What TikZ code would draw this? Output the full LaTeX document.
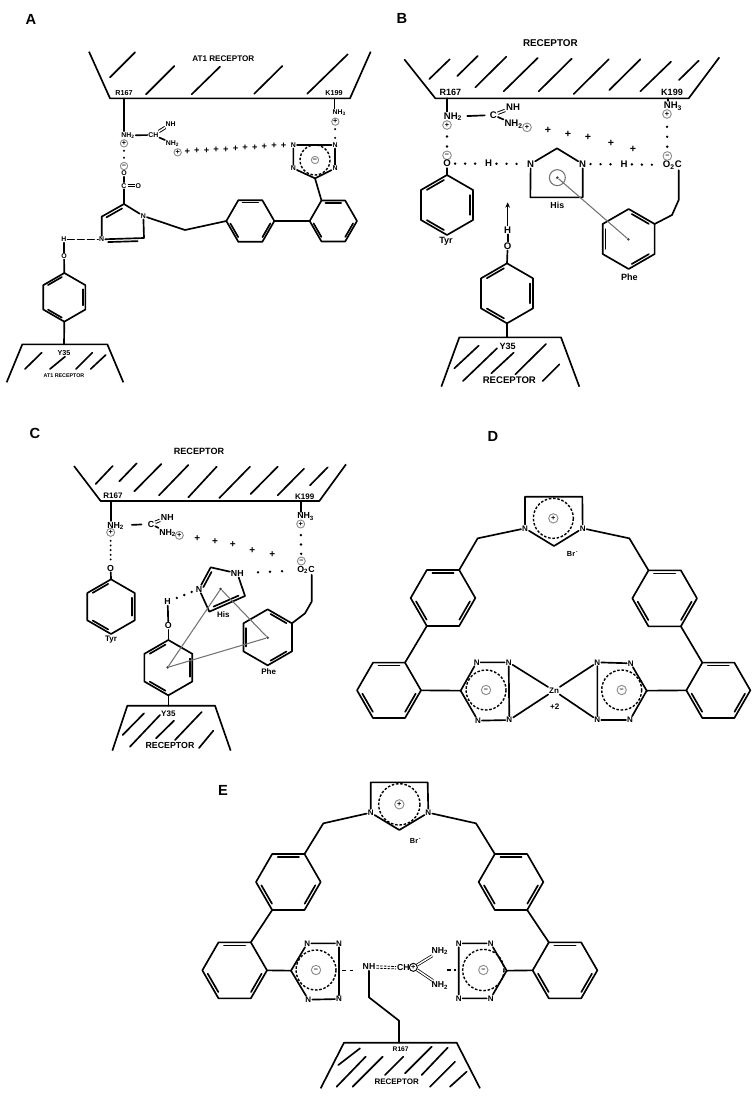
\documentclass[tikz,border=0pt]{standalone}
\usepackage{fontspec}
\setmainfont{Liberation Sans}
\usetikzlibrary{calc,arrows.meta}
\newcommand\szf[1]{\fontsize{#1}{#1}\selectfont\bfseries}
\def\atomsz{6}
\def\chgsz{5pt}
\tikzset{
  bond/.style={draw=black,line width=1.25pt,line join=round,line cap=round},
  dbl/.style={draw=black,line width=.7pt,double,double distance=1.1pt},
  atom/.style={inner sep=.6pt,font=\szf{\atomsz}},
  tag/.style={inner sep=0pt,font=\szf{#1}},
  chg/.style={circle,draw=black!45,line width=.7pt,minimum size=\chgsz,inner sep=0pt,font=\szf{5.5}},
  dotline/.style={draw=black,line width=2pt,line cap=round,dash pattern=on 0pt off #1,shorten <=2.5pt,shorten >=1pt},
  dashcirc/.style={draw=black,line width=1.05pt,dash pattern=on 1.9pt off 1.3pt},
  grayline/.style={draw=black!55,line width=.8pt},
  headline/.style={inner sep=0pt,font=\szf{11}},
  cross/.style={inner sep=0pt,font=\szf{7}},
  dot/.style={circle,fill=black!75,inner sep=0pt,minimum size=2.2pt}
}
\newcommand\hexring[6]{%
  \foreach \i in {0,...,5}{\coordinate (#1\i) at ({#2+#4*cos(#5+60*\i)},{#3+#4*sin(#5+60*\i)});}
  \draw[bond] (#10)--(#11)--(#12)--(#13)--(#14)--(#15)--cycle;
  \foreach \i in {#6}{\draw[bond] ({#2+.84*#4*cos(#5+60*\i+7)},{#3+.84*#4*sin(#5+60*\i+7)}) -- ({#2+.84*#4*cos(#5+60*\i+53)},{#3+.84*#4*sin(#5+60*\i+53)});}
}
\newcommand\tetring[8]{%
  \coordinate (#1C) at (#2);
  \node[atom] (#11) at (#3) {N};
  \node[atom] (#12) at (#4) {N};
  \node[atom] (#13) at (#5) {N};
  \node[atom] (#14) at (#6) {N};
  \draw[bond] (#1C)--(#11)--(#12)--(#13)--(#14)--(#1C);
  \draw[dashcirc] (#7) circle[radius=#8];
  \node[chg] (#1q) at (#7) {–};
}
\newcommand\imring[9]{% name, left N, right N, top-left, top-right, bottom, centre, radius, brpos
  \node[atom] (#1a) at (#2) {N};
  \node[atom] (#1b) at (#3) {N};
  \coordinate (#1c) at (#4);
  \coordinate (#1d) at (#5);
  \coordinate (#1e) at (#6);
  \draw[bond] (#1a)--(#1c)--(#1d)--(#1b)--(#1e)--(#1a);
  \draw[dashcirc] (#7) circle[radius=#8];
  \node[chg] (#1q) at (#7) {+};
  \node[atom,font=\szf{5.5}] (#1br) at (#9) {Br\textsuperscript{\,-}};
}
\newcommand\innerbond[3]{\draw[bond] ($(#1)!.15!(#2)!#3!90:(#2)$) -- ($(#2)!.15!(#1)!#3!-90:(#1)$);}
\newcommand\hatches[1]{\foreach \xa/\ya/\xb/\yb in {#1}{\draw[bond] (\xa,\ya)--(\xb,\yb);}}
\begin{document}
\begin{tikzpicture}[x=.75pt,y=-.75pt]
\useasboundingbox (0,0) rectangle (754,1096);
\node[headline] (hA) at (31,19) {A};
\node[headline] (hB) at (402,18) {B};
\node[headline] (hC) at (35,433) {C};
\node[headline] (hD) at (493,436) {D};
\node[headline] (hE) at (223,790) {E};

%---------------- A
\begin{scope}[shift={(0,0)},x=.25pt,y=-.25pt]
\def\atomsz{5.2}\def\chgsz{5.5pt}
\draw[bond,line cap=butt] (267,155)--(330,295)--(1050,295)--(1112,155);
\hatches{330/232/405/157,438/283/523/198,575/283/660/200,763/281/847/198,922/281/1043/163}
\node[tag=6.1] (Aat) at (670,175) {AT1 RECEPTOR};
\node[tag=5.4] (Ar) at (372,278) {R167};
\node[tag=5.4] (Ak) at (1002,278) {K199};
\coordinate (Arb) at (372,295);
\coordinate (Akb) at (1004,295);
\node[atom] (Anh) at (384,406) {NH\textsubscript{2}};
\draw[bond,line width=.9pt] (Arb)--(Arb |- Anh.north);
\node[chg] (Aq1) at (372,430) {+};
\node[chg] (Aq2) at (372,498) {–};
\draw[dotline=5.2pt,line width=1.7pt] (Aq1)--(Aq2);
\node[atom] (Ao) at (372,520) {O};
\node[atom] (Ac) at (372,557) {C};
\node[atom] (Ao2) at (415,557) {O};
\draw[bond] (Ao)--(Ac);
\draw[dbl] (Ac)--(Ao2);
\coordinate (Ai1) at (372,612);
\node[atom] (AiN1) at (430,648) {N};
\coordinate (Ai2) at (432,714);
\node[atom] (AiN2) at (305,718) {N};
\coordinate (Ai3) at (305,650);
\draw[bond] (Ac)--(Ai1)--(AiN1)--(Ai2)--(AiN2)--(Ai3)--cycle;
\draw[bond] (Ai3)--(Ai1);
\innerbond{Ai3}{Ai1}{-2.2pt}
\innerbond{Ai2}{AiN2}{2.2pt}
\hexring{Ar1}{751}{663}{72}{0}{0,2,4}
\hexring{Ar2}{1000}{663}{71}{0}{0,2,4}
\coordinate (Ach2) at (555,690);
\draw[bond] (AiN1)--(Ach2)--(Ar13);
\draw[bond] (Ar10)--(Ar23);
\tetring{At}{945,535}{880,505}{880,435}{1005,435}{1005,505}{945,480}{45}
\draw[bond] (AtC)--(Ar24);
\node[atom] (Anh3) at (1018,338) {NH\textsubscript{3}};
\draw[bond,line width=.9pt] (Akb)--(Akb |- Anh3.north);
\node[chg] (Aq3) at (1006,365) {+};
\draw[dotline=6.5pt,line width=1.7pt] (Aq3)--(At3);
\node[atom] (Ach) at (460,405) {CH};
\draw[bond] (Anh)--(Ach);
\node[atom] (Anh1) at (512,372) {NH};
\draw[dbl] (Ach)--(Anh1);
\node[atom] (Anh2) at (518,430) {NH\textsubscript{2}};
\draw[bond] (Ach)--(Anh2);
\node[chg] (Aq4) at (533,457) {+};
\foreach \p [evaluate=\p as \q using (\p+1)/12] in {0,...,10}{\node[cross] (Ap\p) at ($(Aq4)!\q!(At2)$) {+};}
\node[atom] (Ah) at (192,718) {H};
\node[atom] (Aoh) at (192,768) {O};
\draw[bond,dash pattern=on 5pt off 2.5pt] (Ah)--(AiN2);
\draw[bond] (Ah)--(Aoh);
\hexring{Ar3}{193}{892}{73}{30}{1,3,5}
\draw[bond] (Aoh)--(Ar34);
\coordinate (Ayb) at (192,1033);
\draw[bond] (Ar31)--(Ayb);
\draw[bond,line cap=butt] (20,1147)--(67,1033)--(322,1033)--(370,1147);
\hatches{75/1107/125/1058,150/1107/195/1070,228/1107/277/1058,272/1107/317/1065}
\node[tag=5.4] (Ay) at (192,1058) {Y35};
\node[tag=4] (Aat2) at (192,1128) {AT1 RECEPTOR};
\end{scope}

%---------------- B
\begin{scope}[shift={(377,0)},x=.25pt,y=-.25pt]
\def\atomsz{7.2}\def\chgsz{6.5pt}
\draw[bond,line cap=butt] (82,178)--(175,295)--(935,295)--(1027,172);
\hatches{157/237/218/178,241/228/302/168,295/262/388/170,380/274/482/174,485/274/584/176,590/282/695/178,697/270/790/178,790/274/882/185,906/240/965/182}
\node[tag=7.4] (Bat) at (520,129) {RECEPTOR};
\node[tag=6.8] (Br) at (220,276) {R167};
\node[tag=6.8] (Bk) at (885,276) {K199};
\coordinate (Brb) at (210,295);
\coordinate (Bkb) at (872,295);
\node[atom] (Bnh) at (228,350) {NH\textsubscript{2}};
\draw[bond] (Brb)--(Brb |- Bnh.north);
\node[chg] (Bq1) at (210,375) {+};
\node[chg] (Bq2) at (210,466) {–};
\draw[dotline=7.5pt,shorten <=5pt] (Bq1)--(Bq2);
\node[atom] (Bo) at (210,491) {O};
\node[atom] (Bh1) at (335,491) {H};
\node[atom] (Bn1) at (461,492) {N};
\node[atom] (Bn2) at (617,492) {N};
\node[atom] (Bh2) at (741,493) {H};
\node[atom] (Boc) at (886,495) {O\textsubscript{2}C};
\draw[dotline=7.5pt] (Bo)--(Bh1);
\draw[dotline=7.5pt] (Bh1)--(Bn1);
\draw[dotline=7.5pt] (Bn2)--(Bh2);
\draw[dotline=7.5pt] (Bh2)--(Boc);
\coordinate (Bt) at (540,445);
\coordinate (Bb1) at (460,592);
\coordinate (Bb2) at (617,592);
\draw[bond] (Bn1)--(Bt)--(Bn2)--(Bb2)--(Bb1)--(Bn1);
\node[tag=6.6] (Bhis) at (541,615) {His};
\hexring{Bty}{210}{615}{90}{30}{1,3,5}
\node[tag=6.8] (Btyr) at (207,725) {Tyr};
\draw[bond] (Bo)--(Bty4);
\hexring{Bph}{755}{717}{90}{30}{0,2,4}
\node[tag=6.8] (Bphe) at (757,832) {Phe};
\coordinate (Bq) at (905,600);
\draw[bond] (Bq |- Boc.south)--(Bq)--(885,645)--(Bph5);
\node[dot] (Bd1) at (541,533) {};
\node[dot] (Bd2) at (754,718) {};
\draw[grayline] (Bd1) circle[radius=24];
\draw[grayline] (Bd1)--(Bd2);
\node[atom] (Bh3) at (392,690) {H};
\node[atom] (Bo3) at (392,738) {O};
\coordinate (Bar) at (392,607);
\draw[bond,line width=.9pt,-{Stealth[length=4pt,width=3.5pt]}] (Bh3)--(Bar);
\draw[bond] (Bh3)--(Bo3);
\hexring{Bre}{390}{880}{90}{30}{1,3,5}
\draw[bond] (Bo3)--(Bre4);
\coordinate (Byb) at (390,1012);
\draw[bond] (Bre1)--(Byb);
\draw[bond,line cap=butt] (193,1160)--(247,1012)--(552,1012)--(607,1160);
\hatches{232/1105/305/1037,258/1143/360/1045,343/1120/410/1058,415/1123/507/1032,497/1143/547/1093}
\node[tag=6.8] (By) at (392,1038) {Y35};
\node[tag=7.2] (Bre2) at (397,1140) {RECEPTOR};
\node[atom] (Bc) at (349,345) {C};
\draw[bond,shorten <=3pt,shorten >=3pt] (Bnh)--(Bc);
\node[atom] (Bnh1) at (408,322) {NH};
\draw[dbl] (Bc)--(Bnh1);
\node[atom] (Bnh2) at (410,372) {NH\textsubscript{2}};
\draw[bond] (Bc)--(Bnh2);
\node[chg] (Bq3) at (450,382) {+};
\foreach \x/\y in {513/390,573/402,633/413,702/430,768/447}{\node[cross,font=\szf{8}] (Bp\x) at (\x,\y) {+};}
\node[atom] (Bnh3) at (888,318) {NH\textsubscript{3}};
\draw[bond,shorten >=0pt] (Bkb)--(Bkb |- Bnh3.north);
\node[chg] (Bq4) at (870,342) {+};
\node[chg] (Bq5) at (871,468) {–};
\draw[dotline=7.5pt,shorten <=6pt] (Bq4)--(Bq5);
\end{scope}

%---------------- C
\begin{scope}[shift={(0,410)},x=.25pt,y=-.25pt]
\def\atomsz{6.6}\def\chgsz{6pt}
\draw[bond,line cap=butt] (222,168)--(302,273)--(958,273)--(1038,163);
\hatches{287/222/338/168,358/214/410/160,403/244/484/162,477/256/565/165,565/262/650/170,658/264/750/170,752/252/833/170,833/256/912/176,930/226/983/172}
\node[tag=6.8] (Cat) at (597,125) {RECEPTOR};
\node[tag=6] (Cr) at (339,257) {R167};
\node[tag=6] (Ck) at (914,259) {K199};
\coordinate (Crb) at (332,273);
\coordinate (Ckb) at (902,273);
\node[atom] (Cnh) at (347,347) {NH\textsubscript{2}};
\draw[bond] (Crb)--(Crb |- Cnh.north);
\node[chg] (Cq1) at (332,367) {+};
\node[atom] (Co) at (332,474) {O};
\draw[dotline=3.5pt,line width=1.6pt,shorten <=3pt] (Cq1)--(Co);
\hexring{Cty}{333}{590}{82}{30}{1,3,5}
\draw[bond] (Co)--(Cty4);
\node[tag=6] (Ctyr) at (333,690) {Tyr};
\node[atom] (Cc) at (453,342) {C};
\draw[bond,shorten <=5pt,shorten >=4pt] (Cnh)--(Cc);
\node[atom] (Cnh1) at (502,322) {NH};
\draw[dbl] (Cc)--(Cnh1);
\node[atom] (Cnh2) at (503,368) {NH\textsubscript{2}};
\draw[bond] (Cc)--(Cnh2);
\node[chg] (Cq2) at (538,376) {+};
\foreach \x/\y in {592/386,645/394,698/405,757/421,817/435}{\node[cross,font=\szf{7.5}] (Cp\x) at (\x,\y) {+};}
\node[atom] (Cnh3) at (917,320) {NH\textsubscript{3}};
\draw[bond] (Ckb)--(Ckb |- Cnh3.north);
\node[chg] (Cq3) at (902,342) {+};
\node[chg] (Cq4) at (904,453) {–};
\draw[dotline=7pt,shorten <=5pt] (Cq3)--(Cq4);
\node[atom] (Coc) at (918,480) {O\textsubscript{2}C};
\hexring{Cph}{803}{682}{84}{30}{0,2,4}
\node[tag=6] (Cphe) at (806,785) {Phe};
\coordinate (Cq) at (935,575);
\draw[bond] (Cq |- Coc.south)--(Cq)--(915,610)--(Cph5);
\node[atom] (CiN) at (597,537) {N};
\coordinate (Ci1) at (632,472);
\node[atom] (CiH) at (712,490) {NH};
\coordinate (Ci2) at (735,558);
\coordinate (Ci3) at (628,605);
\draw[bond] (CiN)--(Ci1)--(CiH)--(Ci2)--(Ci3)--(CiN);
\innerbond{CiN}{Ci1}{-2.2pt}
\innerbond{Ci3}{Ci2}{2.2pt}
\node[tag=6] (Chis) at (670,615) {His};
\draw[dotline=9pt,shorten <=10pt,shorten >=6pt] (CiH)--(Coc);
\node[atom] (Ch) at (503,575) {H};
\draw[dotline=6pt,shorten <=4pt] (Ch)--(CiN);
\node[atom] (Coh) at (505,647) {O};
\draw[bond] (Ch)--(Coh);
\hexring{Cre}{505}{773}{83}{30}{1,3,5}
\draw[bond] (Coh)--(Cre4);
\coordinate (Cyb) at (505,887);
\draw[bond] (Cre1)--(Cyb);
\draw[bond,line cap=butt] (337,1022)--(382,887)--(645,887)--(692,1022);
\hatches{368/975/432/910,390/1010/480/915,468/985/522/932,525/990/605/906,597/1014/640/962}
\node[tag=6] (Cy) at (505,910) {Y35};
\node[tag=6.6] (Cre2) at (510,1005) {RECEPTOR};
\node[dot] (Cd1) at (662,537) {};
\node[dot] (Cd2) at (803,683) {};
\node[dot] (Cd3) at (503,772) {};
\draw[grayline] (Cd1)--(Cd2)--(Cd3)--(Cd1);
\end{scope}

%---------------- D
\begin{scope}[shift={(350,420)},x=.25pt,y=-.25pt]
\def\atomsz{6}\def\chgsz{7pt}
\imring{Dm}{525,325}{698,325}{525,230}{697,230}{612,378}{610,295}{60}{668,402}
\coordinate (Dl) at (383,355);
\coordinate (Dr) at (838,355);
\hexring{Dr1}{279}{534}{97}{0}{0,2,4}
\hexring{Dr2}{117}{811}{96}{0}{0,2,4}
\hexring{Dr3}{944}{535}{97}{0}{0,2,4}
\hexring{Dr4}{1105}{811}{96}{0}{0,2,4}
\draw[bond] (Dma)--(Dl)--(Dr15);
\draw[bond] (Dmb)--(Dr)--(Dr34);
\draw[bond] (Dr12)--(Dr25);
\draw[bond] (Dr31)--(Dr44);
\tetring{Dt}{332,812}{380,727}{476,727}{478,900}{384,902}{408,810}{60}
\tetring{Du}{890,812}{842,730}{742,727}{742,900}{840,900}{815,810}{60}
\draw[bond] (Dr20)--(DtC);
\draw[bond] (DuC)--(Dr43);
\node[atom] (Dzn) at (612,812) {Zn};
\node[atom] (Dpl) at (614,860) {+2};
\draw[bond] (Dt2)--(Dzn);
\draw[bond] (Dt3)--(Dzn);
\draw[bond] (Du2)--(Dzn);
\draw[bond] (Du3)--(Dzn);
\end{scope}

%---------------- E
\begin{scope}[shift={(190,770)},x=.25pt,y=-.25pt]
\def\atomsz{6}\def\chgsz{7pt}
\imring{Em}{542,128}{715,128}{542,37}{713,37}{628,180}{628,103}{62}{677,212}
\coordinate (El) at (400,160);
\coordinate (Er) at (858,160);
\hexring{Er1}{295}{336}{97}{0}{0,2,4}
\hexring{Er2}{134}{601}{97}{0}{0,2,4}
\hexring{Er3}{963}{336}{97}{0}{0,2,4}
\hexring{Er4}{1125}{601}{97}{0}{0,2,4}
\draw[bond] (Ema)--(El)--(Er15);
\draw[bond] (Emb)--(Er)--(Er34);
\draw[bond] (Er12)--(Er25);
\draw[bond] (Er31)--(Er44);
\tetring{Et}{303,602}{352,520}{447,520}{447,687}{355,689}{378,600}{60}
\tetring{Eu}{950,602}{902,520}{806,520}{806,685}{902,685}{880,600}{62}
\draw[bond] (Er20)--(EtC);
\draw[bond] (EuC)--(Er43);
\node[atom,font=\szf{6.5}] (Enh) at (537,590) {NH};
\node[atom,font=\szf{6.5}] (Ech) at (640,594) {CH};
\node[chg,draw=black,minimum size=6pt] (Eq) at (670,592) {+};
\draw[draw=black,line width=.6pt,dash pattern=on 2pt off .8pt,transform canvas={yshift=.9pt}] (Enh)--(Ech);
\draw[draw=black,line width=.6pt,dash pattern=on 2pt off .8pt,transform canvas={yshift=-.9pt}] (Enh)--(Ech);
\node[atom,font=\szf{6.5}] (Ena) at (750,543) {NH\textsubscript{2}};
\node[atom,font=\szf{6.5}] (Enb) at (750,646) {NH\textsubscript{2}};
\draw[dbl,line width=.55pt] (Eq)--(Ena);
\draw[dbl,line width=.55pt] (Eq)--(Enb);
\coordinate (Ea) at (457,601);
\coordinate (Eb) at (490,601);
\coordinate (Ec) at (770,600);
\coordinate (Ed) at (798,600);
\draw[bond,dash pattern=on 3pt off 2.4pt,line cap=butt] (Ea)--(Eb);
\draw[bond,dash pattern=on 3pt off 2.4pt,line cap=butt] (Ec)--(Ed);
\coordinate (Ej1) at (543,682);
\coordinate (Ej2) at (627,752);
\coordinate (Ej3) at (627,818);
\draw[bond] (Enh)--(Enh |- Ej1)--(Ej2)--(Ej3);
\draw[bond,line cap=butt] (392,955)--(462,818)--(800,818)--(870,955);
\hatches{445/885/510/835,440/950/527/860,488/950/578/860,585/915/640/860,645/910/725/830,695/915/773/833,720/950/795/875,780/950/830/905}
\node[tag=5] (Ey) at (632,838) {R167};
\node[tag=6] (Ere) at (620,935) {RECEPTOR};
\end{scope}
\end{tikzpicture}
\end{document}
